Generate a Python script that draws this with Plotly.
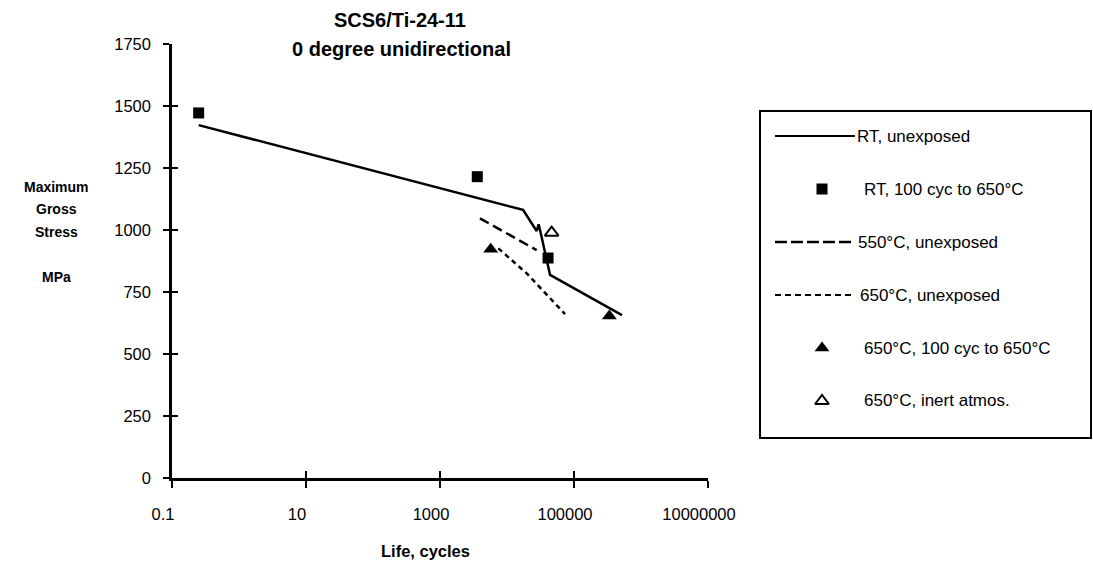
import plotly.graph_objects as go

# ---------------- data ----------------
rt_unexposed_life = [0.25, 17350, 27700, 29700, 32100, 43900, 520000]
rt_unexposed_stress = [1423, 1081, 996, 1023, 984, 819, 657]

rt_cycled_life = [0.25, 3600, 41000]
rt_cycled_stress = [1472, 1215, 887]

t550_unexposed_life = [3950, 27700]
t550_unexposed_stress = [1047, 919]

t650_unexposed_life = [7420, 19700, 73500]
t650_unexposed_stress = [926, 825, 661]

t650_cycled_life = [5710, 337000]
t650_cycled_stress = [922, 653]

t650_inert_life = [46400]
t650_inert_stress = [989]

x_tickvals = [0.1, 10, 1000, 100000, 10000000]
x_ticktext = ["0.1", "10", "1000", "100000", "10000000"]
y_tickvals = [0, 250, 500, 750, 1000, 1250, 1500, 1750]

legend_labels = ["RT, unexposed", "RT, 100 cyc to 650°C", "550°C, unexposed",
                 "650°C, unexposed", "650°C, 100 cyc to 650°C", "650°C, inert atmos."]

# ---------------- layout constants ----------------
W, H = 1093, 565
FONT = "Liberation Sans, Arial, Helvetica, sans-serif"
PX_L, PX_R, PX_T, PX_B = 172, 708, 44, 478


def px_x(p):
    return p / W


def px_y(p):
    return 1 - p / H


fig = go.Figure()

# main traces
fig.add_trace(go.Scatter(x=rt_unexposed_life, y=rt_unexposed_stress, mode="lines",
                         line=dict(color="black", width=2.5), name=legend_labels[0]))
fig.add_trace(go.Scatter(x=t550_unexposed_life, y=t550_unexposed_stress, mode="lines",
                         line=dict(color="black", width=2.5, dash="10px,5px"), name=legend_labels[2]))
fig.add_trace(go.Scatter(x=t650_unexposed_life, y=t650_unexposed_stress, mode="lines",
                         line=dict(color="black", width=2.5, dash="5px,4px"), name=legend_labels[3]))
fig.add_trace(go.Scatter(x=rt_cycled_life, y=rt_cycled_stress, mode="markers", cliponaxis=False,
                         marker=dict(symbol="square", size=11, color="black"), name=legend_labels[1]))
fig.add_trace(go.Scatter(x=t650_cycled_life, y=t650_cycled_stress, mode="markers", cliponaxis=False,
                         marker=dict(symbol="triangle-up", size=13, color="black"), name=legend_labels[4]))
fig.add_trace(go.Scatter(x=t650_inert_life, y=t650_inert_stress, mode="markers", cliponaxis=False,
                         marker=dict(symbol="triangle-up-open", size=12, color="black",
                                     line=dict(width=2, color="black")), name=legend_labels[5]))

# helper (empty) trace for overlay axes giving "crossing" ticks
fig.add_trace(go.Scatter(x=[], y=[], xaxis="x2", yaxis="y2", showlegend=False, hoverinfo="skip"))

# custom legend samples on helper axes (row index = legend order)
LEG_MARK_X = (822 - 775) / 80
leg_x_line = [0, 1]
fig.add_trace(go.Scatter(x=leg_x_line, y=[0, 0], xaxis="x3", yaxis="y3", mode="lines",
                         line=dict(color="black", width=2), showlegend=False, hoverinfo="skip"))
fig.add_trace(go.Scatter(x=[LEG_MARK_X], y=[1], xaxis="x3", yaxis="y3", mode="markers", cliponaxis=False,
                         marker=dict(symbol="square", size=11, color="black"), showlegend=False, hoverinfo="skip"))
fig.add_trace(go.Scatter(x=leg_x_line, y=[2, 2], xaxis="x3", yaxis="y3", mode="lines",
                         line=dict(color="black", width=2.5, dash="12px,4px"), showlegend=False, hoverinfo="skip"))
fig.add_trace(go.Scatter(x=leg_x_line, y=[3, 3], xaxis="x3", yaxis="y3", mode="lines",
                         line=dict(color="black", width=2, dash="6px,4px"), showlegend=False, hoverinfo="skip"))
fig.add_trace(go.Scatter(x=[LEG_MARK_X], y=[4], xaxis="x3", yaxis="y3", mode="markers", cliponaxis=False,
                         marker=dict(symbol="triangle-up", size=13, color="black"), showlegend=False, hoverinfo="skip"))
fig.add_trace(go.Scatter(x=[LEG_MARK_X], y=[5], xaxis="x3", yaxis="y3", mode="markers", cliponaxis=False,
                         marker=dict(symbol="triangle-up-open", size=12, color="black",
                                     line=dict(width=2, color="black")), showlegend=False, hoverinfo="skip"))

x_domain = [px_x(PX_L), px_x(PX_R)]
y_domain = [px_y(PX_B), px_y(PX_T)]
tickfont = dict(family=FONT, size=16.5, color="black")

common_x = dict(type="log", range=[-1, 7], domain=x_domain, tickvals=x_tickvals,
                showgrid=False, zeroline=False, fixedrange=True, automargin=False)
common_y = dict(range=[0, 1750], domain=y_domain, tickvals=y_tickvals,
                showgrid=False, zeroline=False, fixedrange=True, automargin=False)

annotations = []
# titles
annotations.append(dict(text="<b>SCS6/Ti-24-11</b>", x=px_x(400), y=px_y(20), xref="paper", yref="paper",
                        showarrow=False, font=dict(family=FONT, size=20, color="black"),
                        xanchor="center", yanchor="middle"))
annotations.append(dict(text="<b>0 degree unidirectional</b>", x=px_x(401), y=px_y(49), xref="paper",
                        yref="paper", showarrow=False, font=dict(family=FONT, size=20, color="black"),
                        xanchor="center", yanchor="middle"))
# y-axis title lines
for txt, py in [("Maximum", 187), ("Gross", 209), ("Stress", 232), ("MPa", 277)]:
    annotations.append(dict(text="<b>%s</b>" % txt, x=px_x(56), y=px_y(py), xref="paper", yref="paper",
                            showarrow=False, font=dict(family=FONT, size=14, color="black"),
                            xanchor="center", yanchor="middle"))
# x-axis title
annotations.append(dict(text="<b>Life, cycles</b>", x=px_x(425), y=px_y(551), xref="paper", yref="paper",
                        showarrow=False, font=dict(family=FONT, size=16.5, color="black"),
                        xanchor="center", yanchor="middle"))
# legend texts
leg_text_x = [855, 862, 856, 858, 862, 862]
for i, (lab, tx) in enumerate(zip(legend_labels, leg_text_x)):
    annotations.append(dict(text=lab, x=px_x(tx), y=px_y(136 + 53 * i), xref="paper", yref="paper",
                            showarrow=False, font=dict(family=FONT, size=17, color="black"),
                            xanchor="left", yanchor="middle"))

shapes = [dict(type="rect", xref="paper", yref="paper", x0=px_x(760), x1=px_x(1091),
               y0=px_y(438), y1=px_y(111), line=dict(color="black", width=2))]

fig.update_layout(
    width=W, height=H, autosize=False,
    margin=dict(l=0, r=0, t=0, b=0, pad=0, autoexpand=False),
    paper_bgcolor="white", plot_bgcolor="white",
    showlegend=False,
    font=dict(family=FONT, color="black"),
    xaxis=dict(**common_x, ticktext=x_ticktext, ticks="outside", ticklen=7, tickwidth=2,
               tickcolor="black", showline=True, linewidth=2.5, linecolor="black",
               tickfont=tickfont, ticklabelshift=-9, ticklabelstandoff=12, anchor="y"),
    yaxis=dict(**common_y, ticks="outside", ticklen=6, tickwidth=2, tickcolor="black",
               showline=True, linewidth=2.5, linecolor="black", tickfont=tickfont,
               ticklabelstandoff=9, anchor="x"),
    xaxis2=dict(**common_x, overlaying="x", anchor="y2", side="bottom", ticks="inside", ticklen=7,
                tickwidth=2, tickcolor="black", showticklabels=False, showline=False),
    yaxis2=dict(**common_y, overlaying="y", anchor="x2", side="left", ticks="inside", ticklen=6,
                tickwidth=2, tickcolor="black", showticklabels=False, showline=False),
    xaxis3=dict(domain=[px_x(775), px_x(855)], range=[0, 1], visible=False, anchor="y3", fixedrange=True),
    yaxis3=dict(domain=[px_y(136 + 53 * 5 + 26.5), px_y(136 - 26.5)], range=[5.5, -0.5], visible=False,
                anchor="x3", fixedrange=True),
    annotations=annotations,
    shapes=shapes,
)

fig.write_html("out.html")
